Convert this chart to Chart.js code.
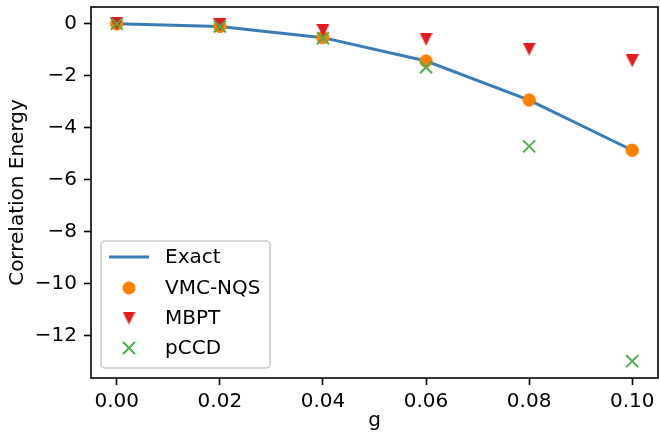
<!DOCTYPE html>
<html>
<head>
<meta charset="utf-8">
<script src="https://cdn.jsdelivr.net/npm/chart.js@4/dist/chart.umd.min.js"></script>
<style>
html,body{margin:0;padding:0;background:#fff;}
#wrap{width:660px;height:440px;}
</style>
</head>
<body>
<div id="wrap"><canvas id="c" width="660" height="440"></canvas></div>
<script>
// ---- data ----
const gValues   = [0.00, 0.02, 0.04, 0.06, 0.08, 0.10];
const exactVals = [0.00, -0.10, -0.53, -1.43, -2.93, -4.86];
const vmcVals   = [0.00, -0.10, -0.53, -1.43, -2.93, -4.86];
const mbptVals  = [0.00, -0.04, -0.25, -0.59, -0.97, -1.42];
const pccdVals  = [0.00, -0.10, -0.55, -1.67, -4.71, -12.97];
const xTickVals = [0.00, 0.02, 0.04, 0.06, 0.08, 0.10];
const yTickVals = [0, -2, -4, -6, -8, -10, -12];
const seriesNames = ['Exact', 'VMC-NQS', 'MBPT', 'pCCD'];
const xTitle = 'g';
const yTitle = 'Correlation Energy';

const BLUE = '#377eb8', ORANGE = '#ff7f00', RED = '#e41a1c', GREEN = '#4daf4a';
const FONT = "'DejaVu Sans', sans-serif";

function pts(ys){ return gValues.map((x,i)=>({x:x, y:ys[i]})); }

// downward triangle marker (matplotlib 'v')
function makeTri(size){
  const c = document.createElement('canvas');
  c.width = size; c.height = size;
  const t = c.getContext('2d');
  t.fillStyle = RED;
  t.beginPath();
  t.moveTo(0,0); t.lineTo(size,0); t.lineTo(size/2,size); t.closePath();
  t.fill();
  return c;
}
const triImg = makeTri(13);

const frameAndLegend = {
  id: 'frameAndLegend',
  afterDatasetsDraw(chart){
    const {ctx, chartArea:a} = chart;
    ctx.save();
    ctx.strokeStyle = '#000';
    ctx.lineWidth = 1.6;
    ctx.strokeRect(a.left, a.top, a.right - a.left, a.bottom - a.top);
    ctx.restore();
  },
  afterDraw(chart){
    const {ctx, chartArea:a} = chart;
    const fx = a.left + 10, fy = 241, fw = 169, fh = 127;
    ctx.save();
    const r = 4;
    ctx.beginPath();
    ctx.moveTo(fx + r, fy);
    ctx.arcTo(fx + fw, fy, fx + fw, fy + fh, r);
    ctx.arcTo(fx + fw, fy + fh, fx, fy + fh, r);
    ctx.arcTo(fx, fy + fh, fx, fy, r);
    ctx.arcTo(fx, fy, fx + fw, fy, r);
    ctx.closePath();
    ctx.fillStyle = 'rgba(255,255,255,0.8)';
    ctx.fill();
    ctx.strokeStyle = '#cccccc';
    ctx.lineWidth = 1.6;
    ctx.stroke();
    const rows = [257, 288, 318, 348];
    const hx0 = fx + 8, hx1 = fx + 48, hc = (hx0 + hx1) / 2;
    const ds = chart.data.datasets;
    ctx.strokeStyle = ds[0].borderColor; ctx.lineWidth = 3;
    ctx.beginPath(); ctx.moveTo(hx0, rows[0]); ctx.lineTo(hx1, rows[0]); ctx.stroke();
    ctx.fillStyle = ds[1].backgroundColor;
    ctx.beginPath(); ctx.arc(hc, rows[1], 6.5, 0, Math.PI*2); ctx.fill();
    ctx.drawImage(triImg, hc - 6.5, rows[2] - 6.5);
    ctx.strokeStyle = ds[3].borderColor; ctx.lineWidth = 2;
    ctx.beginPath();
    ctx.moveTo(hc-6, rows[3]-6); ctx.lineTo(hc+6, rows[3]+6);
    ctx.moveTo(hc-6, rows[3]+6); ctx.lineTo(hc+6, rows[3]-6);
    ctx.stroke();
    ctx.fillStyle = '#000';
    ctx.font = "20px " + FONT;
    ctx.textBaseline = 'middle';
    ctx.textAlign = 'left';
    ds.forEach((d,i)=>ctx.fillText(d.label, fx + 64, rows[i] + 1));
    ctx.restore();
  }
};

new Chart(document.getElementById('c'), {
  type: 'scatter',
  data: {
    datasets: [
      { label: seriesNames[0], data: pts(exactVals), showLine: true, borderColor: BLUE,
        backgroundColor: BLUE, borderWidth: 3, pointRadius: 0, tension: 0, order: 4 },
      { label: seriesNames[1], data: pts(vmcVals), showLine: false, pointStyle: 'circle',
        backgroundColor: ORANGE, borderColor: ORANGE, borderWidth: 1, pointRadius: 6.2, order: 3 },
      { label: seriesNames[2], data: pts(mbptVals), showLine: false, pointStyle: triImg,
        backgroundColor: RED, borderColor: RED, pointRadius: 7, order: 2 },
      { label: seriesNames[3], data: pts(pccdVals), showLine: false, pointStyle: 'crossRot',
        backgroundColor: GREEN, borderColor: GREEN, borderWidth: 2, pointRadius: 8.5, order: 1 }
    ]
  },
  options: {
    responsive: false,
    animation: false,
    devicePixelRatio: 1,
    layout: { autoPadding: false, padding: { left: 0, right: 2, top: 7, bottom: 0 } },
    plugins: { legend: { display: false }, tooltip: { enabled: false } },
    elements: { point: { hoverRadius: 0 } },
    scales: {
      x: {
        type: 'linear', min: -0.005, max: 0.105,
        afterBuildTicks: s => { s.ticks = xTickVals.map(v => ({value: v})); },
        afterFit: s => { s.height = 62; s.paddingLeft = 0; s.paddingRight = 0; },
        border: { display: false },
        grid: { display: true, drawOnChartArea: false, drawTicks: true, tickLength: 7,
                tickColor: '#000', tickWidth: 1.6, color: '#000' },
        ticks: { color: '#000', font: { family: FONT, size: 20 }, padding: 5,
                 autoSkip: false, maxRotation: 0, callback: v => Number(v).toFixed(2) },
        title: { display: true, text: xTitle, color: '#000', font: { family: FONT, size: 20 },
                 padding: { top: 0, bottom: 7 } }
      },
      y: {
        type: 'linear', min: -13.6185, max: 0.6485,
        afterBuildTicks: s => { s.ticks = yTickVals.map(v => ({value: v})); },
        afterFit: s => { s.width = 91; s.paddingTop = 0; s.paddingBottom = 0; },
        border: { display: false },
        grid: { display: true, drawOnChartArea: false, drawTicks: true, tickLength: 7,
                tickColor: '#000', tickWidth: 1.6, color: '#000' },
        ticks: { color: '#000', font: { family: FONT, size: 20 }, padding: 7,
                 autoSkip: false, callback: v => (v < 0 ? '\u2212' + Math.abs(v) : String(v)) },
        title: { display: true, text: yTitle, color: '#000', font: { family: FONT, size: 20 },
                 padding: { top: 6, bottom: 0 } }
      }
    }
  },
  plugins: [frameAndLegend]
});
</script>
</body>
</html>
